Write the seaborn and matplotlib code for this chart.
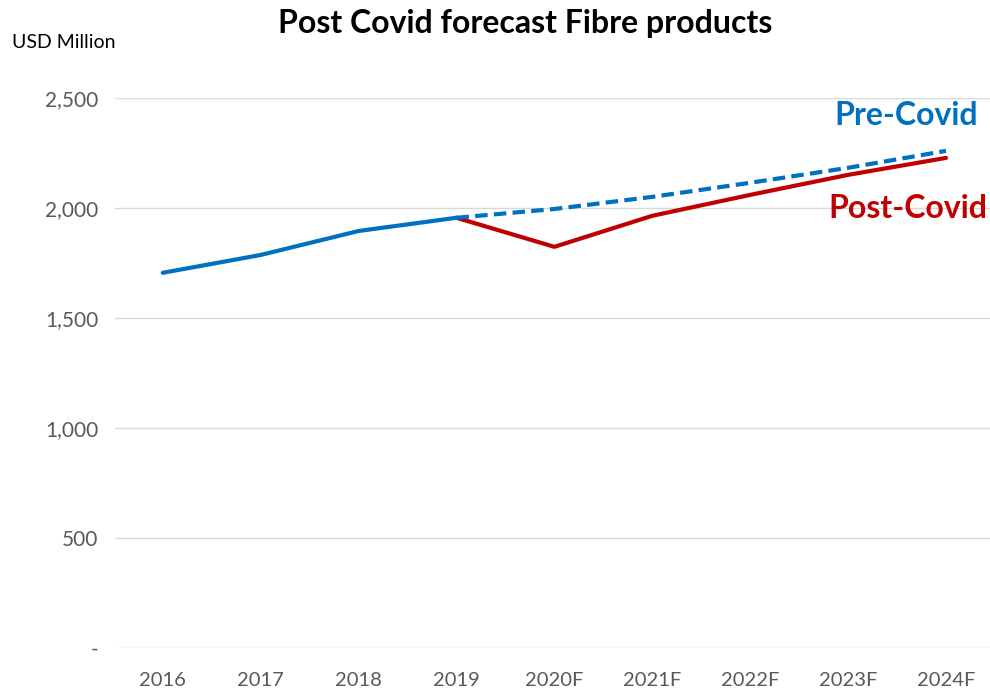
import pandas as pd
import matplotlib.pyplot as plt
import seaborn as sns

# dados
anos = ['2016', '2017', '2018', '2019', '2020F', '2021F', '2022F', '2023F', '2024F']
historico = [1705, 1786, 1895, 1955]
pre_covid = [1955, 1995, 2050, 2114, 2182, 2259]
post_covid = [1955, 1823, 1964, 2059, 2150, 2227]
y_ticks = [0, 500, 1000, 1500, 2000, 2500]
y_labels = ['-', '500', '1,000', '1,500', '2,000', '2,500']

azul = '#0070C0'
vermelho = '#C00000'

sns.set_theme(style='white')
plt.rcParams['font.family'] = ['Lato', 'DejaVu Sans']

df_hist = pd.DataFrame({'ano': anos[:4], 'valor': historico})
df_pre = pd.DataFrame({'ano': anos[3:], 'valor': pre_covid})
df_post = pd.DataFrame({'ano': anos[3:], 'valor': post_covid})

fig = plt.figure(figsize=(9.9, 6.89), dpi=100)
ax = fig.add_axes([0.116, 0.0595, 0.884, 0.7985])

# eixo categórico: fixa a ordem de todos os anos
ax.plot(anos, [None] * len(anos), alpha=0)

sns.lineplot(data=df_post, x='ano', y='valor', color=vermelho, linewidth=3, ax=ax, sort=False)
sns.lineplot(data=df_pre, x='ano', y='valor', color=azul, linewidth=3, ax=ax, sort=False,
             linestyle=(0, (3, 1.5)))
sns.lineplot(data=df_hist, x='ano', y='valor', color=azul, linewidth=3, ax=ax, sort=False)

ax.set_xlim(-0.49, 8.45)
ax.set_ylim(0, 2500)
ax.set_yticks(y_ticks)
ax.set_yticklabels(y_labels)
ax.yaxis.grid(True, color='#D9D9D9', linewidth=1)
ax.set_axisbelow(True)
for s in ax.spines.values():
    s.set_visible(False)
ax.tick_params(axis='y', length=0, labelsize=15, colors='#595959', pad=12)
ax.tick_params(axis='x', length=0, labelsize=14.5, colors='#595959', pad=17)
ax.set_xlabel('')
ax.set_ylabel('')

fig.text(0.012, 0.939, 'USD Million', fontsize=14, color='black', ha='left', va='center')
fig.text(0.53, 0.966, 'Post Covid forecast Fibre products', fontsize=23, fontweight='bold',
         color='black', ha='center', va='center')
ax.text(8.33, 2420, 'Pre-Covid', color=azul, fontsize=23, fontweight='bold', ha='right', va='center')
ax.text(8.42, 1995, 'Post-Covid', color=vermelho, fontsize=23, fontweight='bold', ha='right', va='center')

plt.savefig('out.png', dpi=100)
